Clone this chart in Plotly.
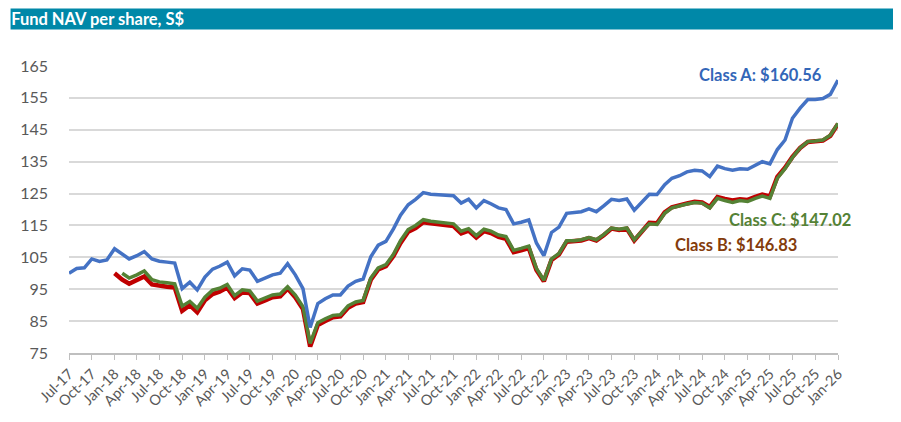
import pandas as pd
import plotly.graph_objects as go

months = pd.date_range("2017-07-01", periods=103, freq="MS")

class_a = [
    100.0, 101.5, 101.7, 104.5, 103.7, 104.2, 107.7, 106.0, 104.5, 105.5,
    106.8, 104.5, 103.8, 103.5, 103.2, 95.2, 97.2, 94.8, 98.8, 101.3,
    102.2, 103.5, 99.2, 101.4, 101.0, 97.5, 98.5, 99.5, 100.0, 103.0,
    99.5, 95.2, 83.0, 90.5, 92.0, 93.2, 93.2, 96.0, 97.5, 98.2,
    105.2, 108.8, 110.0, 114.0, 118.2, 121.5, 123.2, 125.3, 124.8, 124.7,
    124.5, 124.3, 122.0, 123.2, 120.5, 122.8, 121.8, 120.5, 120.0, 115.5,
    116.0, 116.7, 109.5, 105.5, 112.8, 114.5, 118.8, 119.0, 119.3, 120.2,
    119.3, 121.2, 123.2, 122.8, 123.3, 119.8, 122.5, 124.8, 124.7, 127.8,
    129.8, 130.6, 131.8, 132.3, 132.1, 130.3, 133.6, 132.8, 132.3, 132.8,
    132.6, 133.8, 135.0, 134.3, 138.8, 141.8, 148.6, 151.8, 154.5, 154.5,
    154.8, 156.1, 160.56,
]

# Class B launched Jan-18
class_b = [None] * 6 + [
    100.0, 98.0, 96.7, 97.7, 99.0, 96.5, 96.0, 95.8, 95.5, 88.2,
    90.0, 87.8, 91.5, 93.5, 94.2, 95.5, 92.2, 94.0, 93.8, 90.5,
    91.5, 92.5, 92.8, 95.2, 92.5, 88.8, 77.0, 83.8, 85.0, 86.2,
    86.5, 89.2, 90.5, 91.0, 98.0, 101.2, 102.2, 105.5, 109.5, 113.0,
    114.2, 116.0, 115.7, 115.5, 115.3, 114.8, 112.5, 113.4, 111.2, 113.2,
    112.6, 111.4, 110.8, 106.6, 107.2, 107.9, 101.0, 97.5, 104.2, 105.9,
    109.9, 110.0, 110.3, 111.0, 110.3, 112.0, 114.0, 113.6, 114.0, 110.3,
    113.3, 115.8, 115.7, 119.1, 120.7, 121.4, 121.9, 122.4, 122.2, 120.8,
    123.9, 123.3, 122.8, 123.2, 123.0, 124.0, 124.7, 124.1, 130.2, 133.1,
    136.5, 139.3, 141.2, 141.4, 141.6, 143.1, 146.83,
]

# Class C launched Feb-18
class_c = [None] * 7 + [
    100.0, 98.5, 99.5, 100.7, 98.0, 97.3, 97.0, 96.7, 89.7, 91.2,
    89.0, 92.5, 94.7, 95.3, 96.5, 93.0, 94.8, 94.5, 91.3, 92.2,
    93.2, 93.5, 95.8, 93.2, 89.5, 78.0, 84.5, 85.7, 86.8, 87.0,
    89.8, 91.0, 91.5, 98.5, 101.7, 102.7, 106.0, 110.2, 113.7, 115.0,
    116.8, 116.3, 116.0, 115.8, 115.5, 113.2, 114.0, 111.8, 113.8, 113.2,
    112.0, 111.5, 107.2, 107.8, 108.5, 101.5, 97.8, 104.5, 106.2, 110.2,
    110.2, 110.5, 111.2, 110.5, 112.2, 114.2, 113.8, 114.2, 110.5, 113.2,
    115.5, 115.3, 118.8, 120.5, 121.2, 121.7, 122.2, 122.0, 120.5, 123.5,
    122.8, 122.2, 122.8, 122.5, 123.5, 124.2, 123.5, 129.8, 132.8, 136.3,
    139.3, 141.3, 141.5, 141.8, 143.3, 147.02,
]

labels = ["Class A: $160.56", "Class B: $146.83", "Class C: $147.02"]

blue = "#4472C4"
red = "#C00000"
green = "#548235"

fig = go.Figure()
fig.add_trace(go.Scatter(x=months, y=class_b, mode="lines", name="Class B",
                         line=dict(color=red, width=4.5)))
fig.add_trace(go.Scatter(x=months, y=class_c, mode="lines", name="Class C",
                         line=dict(color=green, width=3.5)))
fig.add_trace(go.Scatter(x=months, y=class_a, mode="lines", name="Class A",
                         line=dict(color=blue, width=3.5)))

lab_font = dict(family="Lato, Calibri, sans-serif", size=16.5)
fig.add_annotation(text="<b>" + labels[0] + "</b>", xref="paper", yref="paper",
                   x=0.899, y=0.968, xanchor="center", yanchor="middle",
                   showarrow=False, font=dict(lab_font, color="#3366B8"))
fig.add_annotation(text="<b>" + labels[1] + "</b>", xref="paper", yref="paper",
                   x=0.867, y=0.378, xanchor="center", yanchor="middle",
                   showarrow=False, font=dict(lab_font, color="#843C0C"))
fig.add_annotation(text="<b>" + labels[2] + "</b>", xref="paper", yref="paper",
                   x=0.938, y=0.464, xanchor="center", yanchor="middle",
                   showarrow=False, font=dict(lab_font, color=green))

# title banner
fig.add_shape(type="rect", xref="paper", yref="paper",
              x0=-0.076, x1=1.076, y0=1.127, y1=1.2,
              fillcolor="#0088A8", line_width=0, layer="below")

# page body adds an 8px offset, so the figure is 8px smaller
fig.update_layout(
    width=893, height=414,
    margin=dict(l=58, r=63, t=58, b=56),
    paper_bgcolor="white", plot_bgcolor="white",
    showlegend=False,
    title=dict(text="<b>Fund NAV per share, S$</b>", x=0.0035, xanchor="left",
               y=0.974, yanchor="middle",
               font=dict(family="Lato, Calibri, sans-serif", size=16.5, color="white")),
    font=dict(family="Lato, Calibri, sans-serif", color="#595959"),
)
fig.update_xaxes(
    range=[months[0], months[-1]], dtick="M3", tick0=months[0],
    tickformat="%b-%y", tickangle=-45, tickfont=dict(size=14.5),
    showgrid=False, showline=True, linecolor="#BFBFBF", linewidth=1.5,
    ticks="outside", ticklen=5, tickcolor="#BFBFBF",
)
fig.update_yaxes(
    range=[75, 165], dtick=10, tick0=75, tickfont=dict(size=16),
    showgrid=True, gridcolor="#D9D9D9", gridwidth=1.5,
    zeroline=False, showline=False, ticks="", ticklabelstandoff=20,
)

fig.write_html("out.html")
